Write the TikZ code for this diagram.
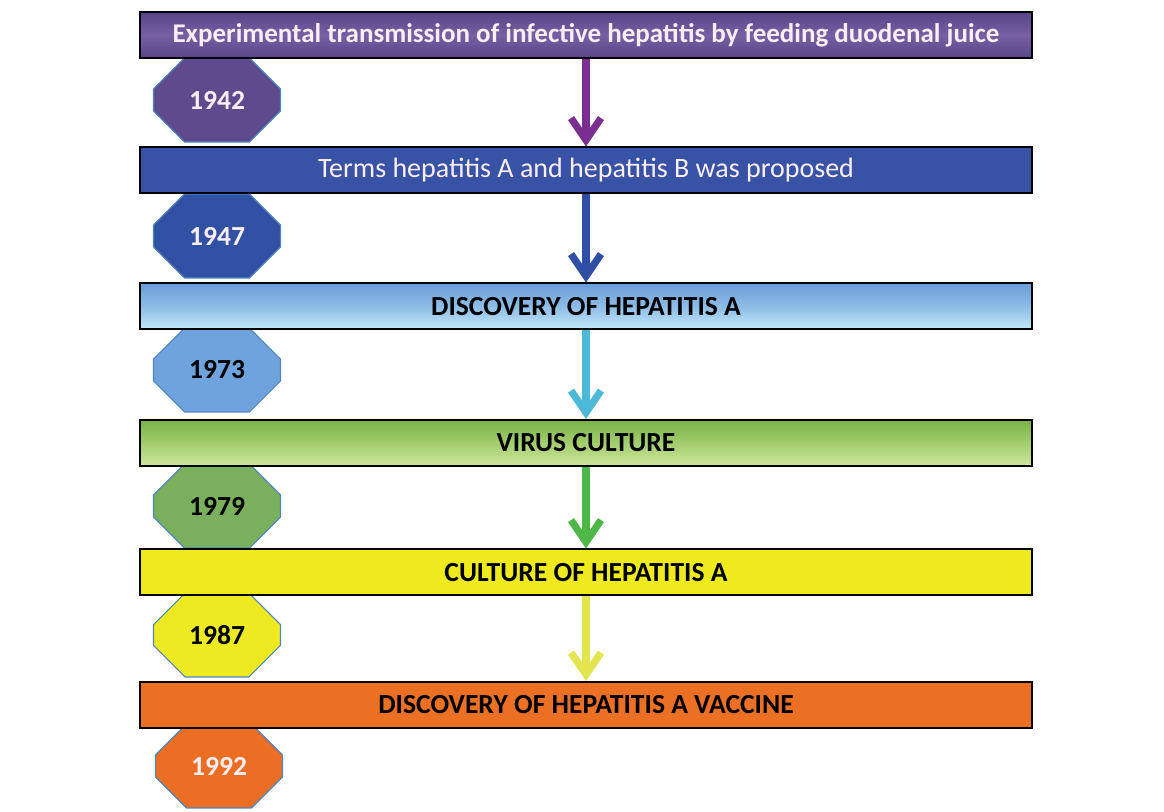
\documentclass[tikz,border=0pt]{standalone}
\usepackage{fontspec}
\setmainfont{Carlito}
\usetikzlibrary{arrows.meta,shapes.misc}
\definecolor{purpA}{HTML}{584487}
\definecolor{purpB}{HTML}{7660A3}
\definecolor{blueB}{HTML}{3853A5}
\definecolor{lbTop}{HTML}{6A9ED8}
\definecolor{lbMid}{HTML}{8DBCE6}
\definecolor{lbBot}{HTML}{C4EAF8}
\definecolor{grTop}{HTML}{78B347}
\definecolor{grMid}{HTML}{A3CD6E}
\definecolor{grBot}{HTML}{CFE79C}
\definecolor{yelB}{HTML}{EEEA1E}
\definecolor{oraB}{HTML}{EC7024}
\definecolor{octline}{HTML}{4F86C0}
\definecolor{o1}{HTML}{5E4A8C}
\definecolor{o2}{HTML}{3152A4}
\definecolor{o3}{HTML}{6FA3DD}
\definecolor{o4}{HTML}{7AB05C}
\definecolor{o5}{HTML}{EDEA22}
\definecolor{o6}{HTML}{EB6E24}
\definecolor{a1}{HTML}{7A2E8F}
\definecolor{a2}{HTML}{2F4FA6}
\definecolor{a3}{HTML}{4DB9D9}
\definecolor{a4}{HTML}{4DB848}
\definecolor{a5}{HTML}{E3E54E}
\definecolor{softwhite}{HTML}{FBEEF3}
\begin{document}
\begin{tikzpicture}[x=0.5pt,y=-0.5pt,
  bar/.style={draw=black, line width=1pt, minimum width=446pt, minimum height=23pt,
    inner sep=0pt, font=\bfseries\fontsize{13.8}{16}\selectfont},
  yearbox/.style={chamfered rectangle, chamfered rectangle xsep=11pt,
    chamfered rectangle ysep=11pt, minimum width=63.5pt, minimum height=42pt,
    draw=octline, line width=0.6pt, inner sep=0pt,
    font=\bfseries\fontsize{13.8}{16}\selectfont},
  flow/.style={line width=3.6pt, -{Straight Barb[length=11pt,width=15pt]}}]
\useasboundingbox (0,0) rectangle (1164,812);
% year octagons (behind the bars)
\node[yearbox, fill=o1, text=softwhite] (y1) at (217,100) {1942};
\node[yearbox, fill=o2, text=softwhite] (y2) at (217,236) {1947};
\node[yearbox, fill=o3, text=black] (y3) at (217,370) {1973};
\node[yearbox, fill=o4, text=black] (y4) at (217,506) {1979};
\node[yearbox, fill=o5, text=black] (y5) at (217,635) {1987};
\node[yearbox, fill=o6, text=softwhite] (y6) at (219,766) {1992};
% bars
\node[bar, top color=purpA, bottom color=purpA, middle color=purpB, text=softwhite,
  font=\bfseries\fontsize{13.5}{16}\selectfont] (b1) at (586,35)
  {Experimental transmission of infective hepatitis by feeding duodenal juice};
\node[bar, fill=blueB, text=softwhite, font=\fontsize{14}{16}\selectfont] (b2) at (586,170.5)
  {Terms hepatitis A and hepatitis B was proposed};
\node[bar, top color=lbTop, bottom color=lbBot, middle color=lbMid] (b3) at (586,306.5) {DISCOVERY OF HEPATITIS A};
\node[bar, top color=grTop, bottom color=grBot, middle color=grMid] (b4) at (586,443) {VIRUS CULTURE};
\node[bar, fill=yelB] (b5) at (586,572.5) {CULTURE OF HEPATITIS A};
\node[bar, fill=oraB] (b6) at (586,705) {DISCOVERY OF HEPATITIS A VACCINE};
% arrows
\draw[flow, a1] (b1.south) -- (b2.north);
\draw[flow, a2] (b2.south) -- (b3.north);
\draw[flow, a3] (b3.south) -- (b4.north);
\draw[flow, a4] (b4.south) -- (b5.north);
\draw[flow, a5] (b5.south) -- (b6.north);
\end{tikzpicture}
\end{document}
